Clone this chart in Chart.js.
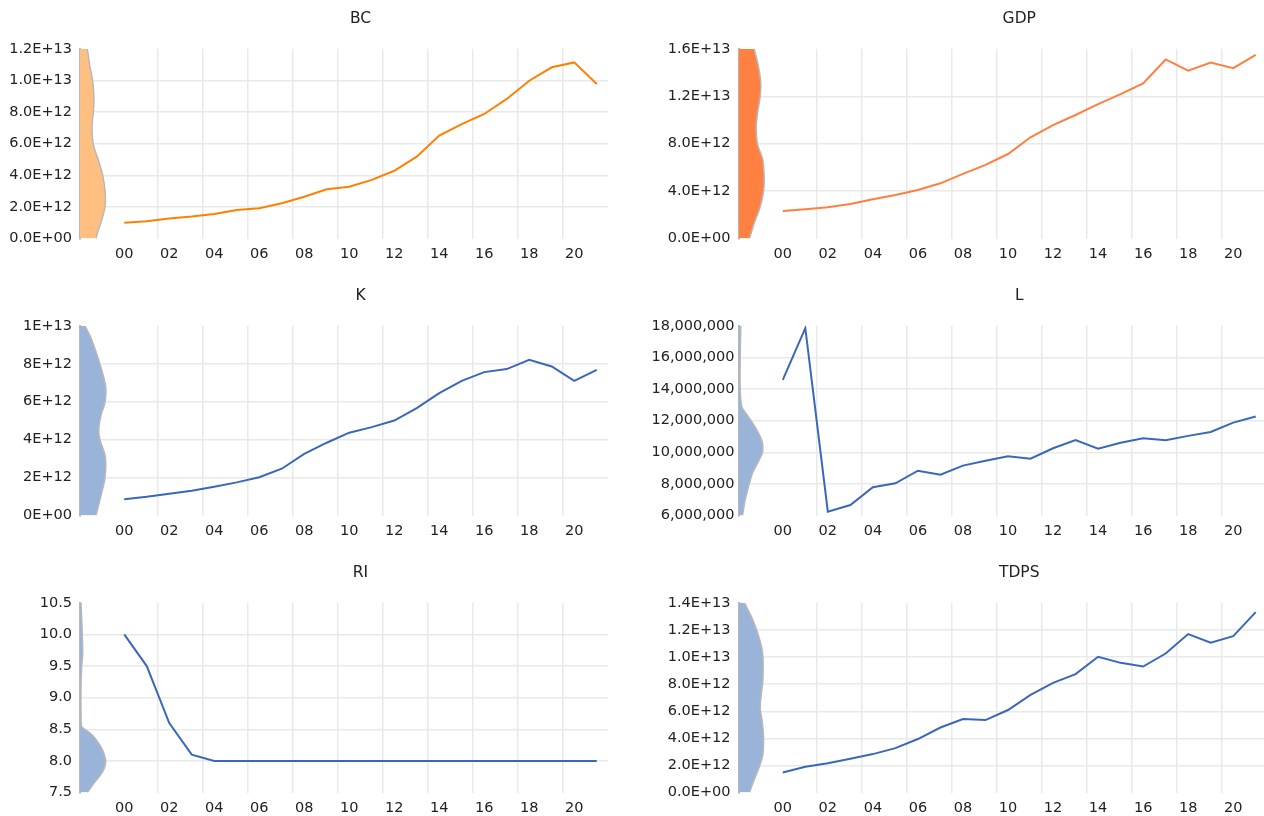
<!DOCTYPE html>
<html>
<head>
<meta charset="utf-8">
<title>BC GDP K L RI TDPS</title>
<script src="https://cdn.jsdelivr.net/npm/chart.js@4.4.1/dist/chart.umd.min.js"></script>
<style>
    body { margin: 0; background: #fff; overflow: hidden; width: 1264px; height: 816px; position: relative; }
    canvas { position: absolute; }
</style>
</head>
<body>
<canvas id="bcChart" width="632" height="277" style="left:0;top:0"></canvas>
<canvas id="gdpChart" width="640" height="277" style="left:632px;top:0"></canvas>
<canvas id="kChart" width="632" height="277" style="left:0;top:277px"></canvas>
<canvas id="lChart" width="640" height="277" style="left:632px;top:277px"></canvas>
<canvas id="riChart" width="632" height="277" style="left:0;top:554px"></canvas>
<canvas id="tdpsChart" width="640" height="277" style="left:632px;top:554px"></canvas>
<script>
const years = ['00', '01', '02', '03', '04', '05', '06', '07', '08', '09', '10',
               '11', '12', '13', '14', '15', '16', '17', '18', '19', '20', '21'];

// series (2000-2021)
const bcValues = [1.00e12, 1.10e12, 1.27e12, 1.39e12, 1.56e12, 1.81e12, 1.92e12, 2.24e12, 2.65e12, 3.12e12, 3.28e12,
                  3.71e12, 4.29e12, 5.18e12, 6.51e12, 7.24e12, 7.88e12, 8.83e12, 9.98e12, 10.83e12, 11.14e12, 9.77e12];
const gdpValues = [2.33e12, 2.47e12, 2.64e12, 2.92e12, 3.32e12, 3.68e12, 4.10e12, 4.66e12, 5.45e12, 6.21e12, 7.13e12,
                   8.54e12, 9.57e12, 10.42e12, 11.34e12, 12.18e12, 13.08e12, 15.10e12, 14.15e12, 14.85e12, 14.37e12, 15.49e12];
const kValues = [0.86e12, 0.99e12, 1.15e12, 1.31e12, 1.52e12, 1.75e12, 2.02e12, 2.47e12, 3.25e12, 3.84e12, 4.37e12,
                 4.66e12, 5.01e12, 5.66e12, 6.45e12, 7.10e12, 7.56e12, 7.72e12, 8.21e12, 7.86e12, 7.10e12, 7.68e12];
const lValues = [14580000, 17850000, 6250000, 6670000, 7790000, 8040000, 8840000, 8590000, 9160000, 9470000, 9750000,
                 9600000, 10260000, 10780000, 10230000, 10610000, 10890000, 10770000, 11040000, 11290000, 11880000, 12260000];
const riValues = [10.0, 9.5, 8.6, 8.1, 8.0, 8.0, 8.0, 8.0, 8.0, 8.0, 8.0,
                  8.0, 8.0, 8.0, 8.0, 8.0, 8.0, 8.0, 8.0, 8.0, 8.0, 8.0];
const tdpsValues = [1.48e12, 1.90e12, 2.17e12, 2.49e12, 2.84e12, 3.28e12, 3.95e12, 4.80e12, 5.42e12, 5.35e12, 6.09e12,
                    7.21e12, 8.10e12, 8.74e12, 10.02e12, 9.57e12, 9.30e12, 10.26e12, 11.69e12, 11.05e12, 11.54e12, 13.31e12];

// kernel density profiles (level -> relative density)
const bcDensLevels = [0, 0.34e12, 1.18e12, 2.0e12, 2.87e12, 4.0e12, 4.97e12, 5.96e12, 7.07e12, 7.98e12, 8.76e12, 9.96e12, 10.86e12, 12.0e12];
const bcDensity = [16, 17.3, 21.7, 25, 25.3, 22.7, 18.3, 13.3, 12, 13.3, 14, 12.7, 10, 7.3];
const gdpDensLevels = [0, 1.30e12, 2.69e12, 3.99e12, 4.94e12, 6.63e12, 7.97e12, 9.43e12, 10.56e12, 11.99e12, 13.08e12, 14.48e12, 16.0e12];
const gdpDensity = [11, 15.7, 21.7, 25, 25.7, 24.3, 19, 17.7, 19, 21.7, 22.3, 20, 15.7];
const kDensLevels = [0, 0.99e12, 2.0e12, 3.10e12, 3.99e12, 4.51e12, 5.22e12, 5.98e12, 6.80e12, 7.98e12, 9.27e12, 10.0e12];
const kDensity = [16, 20.7, 25, 25.3, 20, 18.7, 20.7, 25, 25.7, 20, 11.7, 5];
const lDensLevels = [6.0e6, 6.99e6, 8.0e6, 8.68e6, 9.52e6, 10.0e6, 10.58e6, 11.21e6, 12.03e6, 12.47e6, 12.89e6, 13.99e6, 15.99e6, 18.0e6];
const lDensity = [4, 6.7, 10.7, 14, 20.7, 24, 24, 20, 12.3, 7.3, 3.3, 1.7, 1.7, 2.3];
const riDensLevels = [7.5, 7.67, 7.83, 8.0, 8.2, 8.36, 8.44, 8.5, 8.54, 8.73, 9.15, 9.5, 9.68, 10.0, 10.5];
const riDensity = [7.3, 15, 22.7, 25.7, 21.7, 15, 10, 5, 1.7, 1, 1, 1.7, 2.7, 2.3, 1];
const tdpsDensLevels = [0, 0.82e12, 1.81e12, 2.79e12, 4.02e12, 5.24e12, 6.23e12, 7.21e12, 8.19e12, 10.16e12, 11.15e12, 12.62e12, 14.0e12];
const tdpsDensity = [11, 15, 20.3, 24.3, 25, 23.7, 21.7, 22.7, 24.3, 24.3, 21.7, 15, 6];

const GRID = '#e9e9e9';
const DENS_EDGE = '#b8b8b8';
const BLUE = '#3a68b8';
const BLUE_FILL = '#9ab3d9';

Chart.defaults.font.family = "'DejaVu Sans', sans-serif";
Chart.defaults.color = '#222';

function sciLabel(digits) {
    return function(value) {
        if (Math.abs(value) < 1) return (0).toFixed(digits) + 'E+00';
        const exp = Math.floor(Math.log10(Math.abs(value)) + 1e-9);
        const mant = value / Math.pow(10, exp);
        return mant.toFixed(digits) + 'E+' + String(exp).padStart(2, '0');
    };
}

function titlePlugin(text) {
    return {
        id: 'panelTitle',
        afterDraw(chart) {
            const xs = chart.scales.x;
            const ctx = chart.ctx;
            ctx.save();
            ctx.font = "15.5px 'DejaVu Sans'";
            ctx.fillStyle = '#222';
            ctx.textAlign = 'center';
            ctx.textBaseline = 'middle';
            ctx.fillText(text, (xs.left + xs.right) / 2, 18.5);
            ctx.restore();
        }
    };
}

function makePanel(id, p) {
    const densPoints = p.densLevels.map((v, i) => ({ x: p.density[i], y: v }));
    return new Chart(document.getElementById(id), {
        type: 'line',
        data: {
            labels: years,
            datasets: [{
                data: p.values,
                xAxisID: 'x',
                yAxisID: 'y',
                borderColor: p.lineColor,
                borderWidth: 2,
                pointRadius: 0,
                tension: 0,
                fill: false
            }, {
                data: densPoints,
                indexAxis: 'y',
                xAxisID: 'xd',
                yAxisID: 'y',
                borderColor: DENS_EDGE,
                borderWidth: 1.5,
                backgroundColor: p.densColor,
                fill: 'origin',
                pointRadius: 0,
                tension: 0.3
            }]
        },
        options: {
            responsive: false,
            animation: false,
            layout: { padding: { top: 48.8, right: p.padRight, bottom: 0, left: 0 } },
            plugins: {
                legend: { display: false },
                tooltip: { enabled: false }
            },
            scales: {
                xd: {
                    type: 'linear',
                    position: 'bottom',
                    stack: 'bottom',
                    stackWeight: 33,
                    min: 0,
                    max: 33,
                    grid: { display: false },
                    border: { display: false },
                    ticks: { display: false },
                    afterFit: s => { s.height = 38.4; }
                },
                x: {
                    type: 'category',
                    position: 'bottom',
                    stack: 'bottom',
                    stackWeight: 495,
                    offset: true,
                    grid: {
                        offset: true,
                        drawTicks: false,
                        lineWidth: 1.5,
                        color: ctx => (ctx.index > 0 && ctx.index < years.length && ctx.index % 2 === 0) ? GRID : 'rgba(0,0,0,0)'
                    },
                    border: { display: false },
                    ticks: {
                        autoSkip: false,
                        maxRotation: 0,
                        padding: 7,
                        font: { size: 14.5 },
                        callback: (v, i) => i % 2 === 0 ? years[i] : ''
                    },
                    afterFit: s => { s.height = 38.4; }
                },
                y: {
                    type: 'linear',
                    position: 'left',
                    min: p.yMin,
                    max: p.yMax,
                    grid: {
                        drawTicks: false,
                        lineWidth: 1.5,
                        color: ctx => (ctx.index > 0 && ctx.index < ctx.scale.ticks.length - 1) ? GRID : 'rgba(0,0,0,0)'
                    },
                    border: { display: true, color: DENS_EDGE, width: 2 },
                    ticks: {
                        stepSize: p.yStep,
                        padding: p.tickPad,
                        font: { size: 14.5 },
                        callback: p.fmt
                    },
                    afterFit: s => { s.width = p.axisWidth; }
                }
            }
        },
        plugins: [titlePlugin(p.title)]
    });
}

document.addEventListener('DOMContentLoaded', function() {
    makePanel('bcChart', {
        title: 'BC', values: bcValues, densLevels: bcDensLevels, density: bcDensity,
        lineColor: '#ff8000', densColor: '#ffbf80',
        yMin: 0, yMax: 1.2e13, yStep: 2e12, fmt: sciLabel(1),
        axisWidth: 80, padRight: 24, tickPad: 8
    });
    makePanel('gdpChart', {
        title: 'GDP', values: gdpValues, densLevels: gdpDensLevels, density: gdpDensity,
        lineColor: '#ff7f40', densColor: '#ff8040',
        yMin: 0, yMax: 1.6e13, yStep: 4e12, fmt: sciLabel(1),
        axisWidth: 106.5, padRight: 5, tickPad: 8
    });
    makePanel('kChart', {
        title: 'K', values: kValues, densLevels: kDensLevels, density: kDensity,
        lineColor: BLUE, densColor: BLUE_FILL,
        yMin: 0, yMax: 1e13, yStep: 2e12, fmt: sciLabel(0),
        axisWidth: 80, padRight: 24, tickPad: 8
    });
    makePanel('lChart', {
        title: 'L', values: lValues, densLevels: lDensLevels, density: lDensity,
        lineColor: BLUE, densColor: BLUE_FILL,
        yMin: 6e6, yMax: 18e6, yStep: 2e6, fmt: v => Math.round(v).toLocaleString('en-US'),
        axisWidth: 106.5, padRight: 5, tickPad: 4
    });
    makePanel('riChart', {
        title: 'RI', values: riValues, densLevels: riDensLevels, density: riDensity,
        lineColor: BLUE, densColor: BLUE_FILL,
        yMin: 7.5, yMax: 10.5, yStep: 0.5, fmt: v => v.toFixed(1),
        axisWidth: 80, padRight: 24, tickPad: 8
    });
    makePanel('tdpsChart', {
        title: 'TDPS', values: tdpsValues, densLevels: tdpsDensLevels, density: tdpsDensity,
        lineColor: BLUE, densColor: BLUE_FILL,
        yMin: 0, yMax: 1.4e13, yStep: 2e12, fmt: sciLabel(1),
        axisWidth: 106.5, padRight: 5, tickPad: 8
    });
});
</script>
</body>
</html>
